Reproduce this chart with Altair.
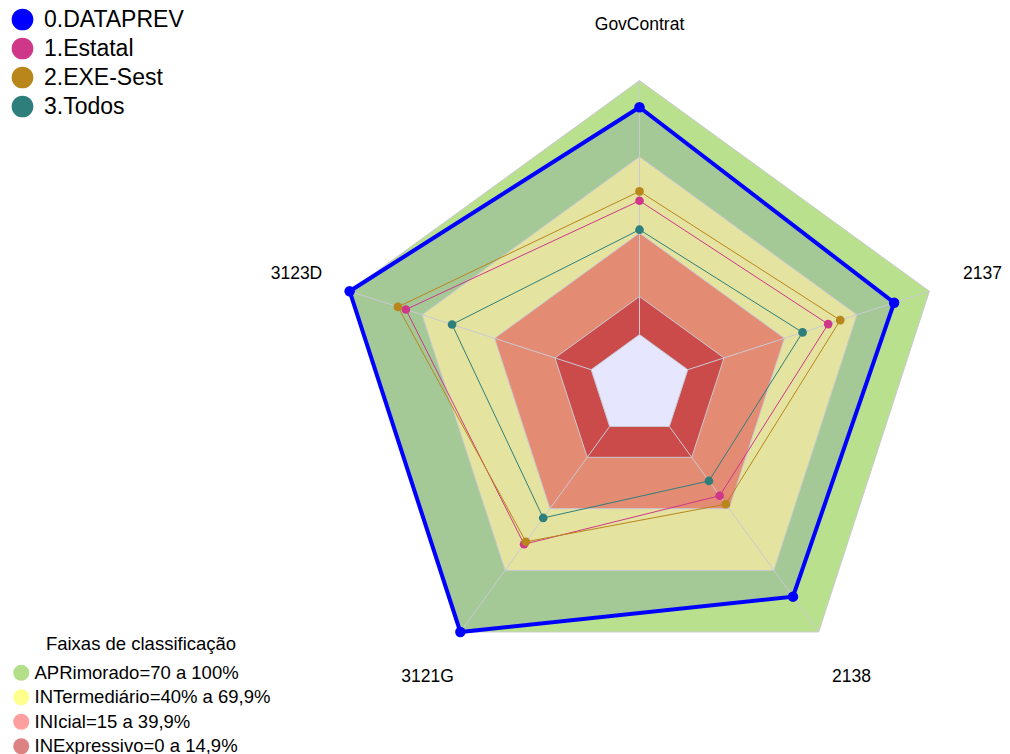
import altair as alt
import pandas as pd

# ---------------- data ----------------
axes_labels = ["GovContrat", "2137", "2138", "3121G", "3123D"]
series_names = ["0.DATAPREV", "1.Estatal", "2.EXE-Sest", "3.Todos"]
dataprev = [89.5, 85.4, 82.8, 100.0, 100.0]
estatal = [52.7, 58.1, 33.7, 57.3, 76.7]
exe_sest = [56.4, 63.1, 37.8, 56.1, 80.0]
todos = [41.3, 47.5, 26.5, 44.5, 57.6]
series_values = [dataprev, estatal, exe_sest, todos]
series_colors = ["#0000ff", "#cf3789", "#b8861b", "#2e7f7b"]

band_levels = [100, 70, 40, 15, 0]
band_fill = ["#b9e08d", "#e5e3a0", "#e48b74", "#cb4b4b", "#e6e6ff"]
legend_labels = ["APRimorado=70 a 100%", "INTermediário=40% a 69,9%",
                 "INIcial=15 a 39,9%", "INExpressivo=0 a 14,9%"]
legend_colors = ["#b3de8a", "#ffff8e", "#ff9e9e", "#dc8282"]

# ---------------- layout constants ----------------
FONT = "Liberation Sans"
R0 = 20          # inner hole (value units)
K = 2.54         # px per value unit
CX, CY = 639.5, 385.4
W, H = 994, 746
xs = alt.Scale(domain=[(8 - CX) / K, (8 + W - CX) / K], nice=False, zero=False)
ys = alt.Scale(domain=[(CY - 8 - H) / K, (CY - 8) / K], nice=False, zero=False)
X = alt.X("x:Q", scale=xs, axis=None)
Y = alt.Y("y:Q", scale=ys, axis=None)
N = len(axes_labels)

series_df = pd.DataFrame(
    [{"series": s, "idx": i, "value": v}
     for s, vals in zip(series_names, series_values) for i, v in enumerate(vals)]
)
band_df = pd.DataFrame(
    [{"level": lvl, "idx": i, "value": lvl} for lvl in band_levels for i in range(N)]
)
spoke_df = pd.DataFrame({"idx": list(range(N)), "v0": 0, "v1": 100})
label_df = pd.DataFrame({"idx": list(range(N)), "label": axes_labels})
legend_df = pd.DataFrame({"band": legend_labels})


def polar(ch, field="value", xname="x", yname="y"):
    return ch.transform_calculate(
        **{
            xname: f"(datum.{field}+{R0})*sin(datum.idx*2*PI/{N})",
            yname: f"(datum.{field}+{R0})*cos(datum.idx*2*PI/{N})",
        }
    )


layers = []

# hidden helper for the band legend (covered by the bands)
layers.append(
    alt.Chart(legend_df)
    .transform_calculate(x="0", y="0")
    .mark_point(filled=True, opacity=1, size=10)
    .encode(
        x=X, y=Y,
        color=alt.Color(
            "band:N",
            scale=alt.Scale(domain=legend_labels, range=legend_colors),
            legend=alt.Legend(
                orient="none", legendX=4, legendY=627,
                title="Faixas de classificação", titleFont=FONT, titleFontSize=18.5,
                titleFontWeight="normal", titleColor="black", titleAnchor="middle",
                titleLimit=500, titlePadding=10, symbolType="circle", symbolSize=256,
                symbolStrokeWidth=0, symbolOpacity=1, labelFont=FONT,
                labelFontSize=18.5, labelColor="black", labelOffset=4,
                rowPadding=5.5, labelLimit=500,
            ),
        ),
    )
)


def band_layer(level, color):
    return polar(
        alt.Chart(band_df).transform_filter(f"datum.level == {level}")
    ).mark_line(
        interpolate="linear-closed", fill=color, stroke="#c9c9d3", strokeWidth=1
    ).encode(x=X, y=Y, order=alt.Order("idx:Q"))


# outermost band
layers.append(band_layer(band_levels[0], band_fill[0]))
# DATAPREV area (darker green tint)
layers.append(
    polar(alt.Chart(series_df).transform_filter(f"datum.series == '{series_names[0]}'"))
    .mark_line(interpolate="linear-closed", fill="#a5c897", stroke="#a5c897", strokeWidth=0)
    .encode(x=X, y=Y, order=alt.Order("idx:Q"))
)
for lvl, col in zip(band_levels[1:], band_fill[1:]):
    layers.append(band_layer(lvl, col))

# spokes
layers.append(
    polar(polar(alt.Chart(spoke_df), "v0", "x", "y"), "v1", "x2", "y2")
    .mark_rule(color="#c9c9d3", strokeWidth=1)
    .encode(x=X, y=Y, x2="x2:Q", y2="y2:Q")
)

# series lines: thin ones
layers.append(
    polar(alt.Chart(series_df).transform_filter(f"datum.series != '{series_names[0]}'"))
    .mark_line(interpolate="linear-closed", strokeWidth=1)
    .encode(
        x=X, y=Y, order=alt.Order("idx:Q"),
        stroke=alt.Stroke("series:N", scale=alt.Scale(domain=series_names, range=series_colors), legend=None),
    )
)
# DATAPREV thick line
layers.append(
    polar(alt.Chart(series_df).transform_filter(f"datum.series == '{series_names[0]}'"))
    .mark_line(interpolate="linear-closed", strokeWidth=4, stroke=series_colors[0])
    .encode(x=X, y=Y, order=alt.Order("idx:Q"))
)

# series points
layers.append(
    polar(alt.Chart(series_df))
    .mark_point(filled=True, opacity=1)
    .encode(
        x=X, y=Y,
        fill=alt.Fill(
            "series:N",
            scale=alt.Scale(domain=series_names, range=series_colors),
            legend=alt.Legend(
                orient="none", legendX=3, legendY=0, title=None,
                symbolType="circle", symbolSize=470, symbolStrokeWidth=0,
                symbolOpacity=1, labelFont=FONT, labelFontSize=23,
                labelColor="black", labelOffset=10, rowPadding=5, labelLimit=500,
            ),
        ),
        size=alt.condition(f"datum.series == '{series_names[0]}'", alt.value(110), alt.value(75)),
    )
)

# axis labels
label_r = 122
layers.append(
    alt.Chart(label_df)
    .transform_calculate(
        x=f"({label_r}+{R0})*sin(datum.idx*2*PI/{N})",
        y=f"({label_r}+{R0})*cos(datum.idx*2*PI/{N})",
    )
    .mark_text(font=FONT, fontSize=17.5, align="center", baseline="middle", color="black")
    .encode(x=X, y=Y, text="label:N")
)

chart = (
    alt.layer(*layers)
    .resolve_scale(color="independent", fill="independent")
    .properties(width=W, height=H, autosize=alt.AutoSizeParams(type="none"), padding=0, background="white")
    .configure_view(stroke=None)
)

chart.save("out.html", embed_options={"renderer": "svg", "actions": False})
